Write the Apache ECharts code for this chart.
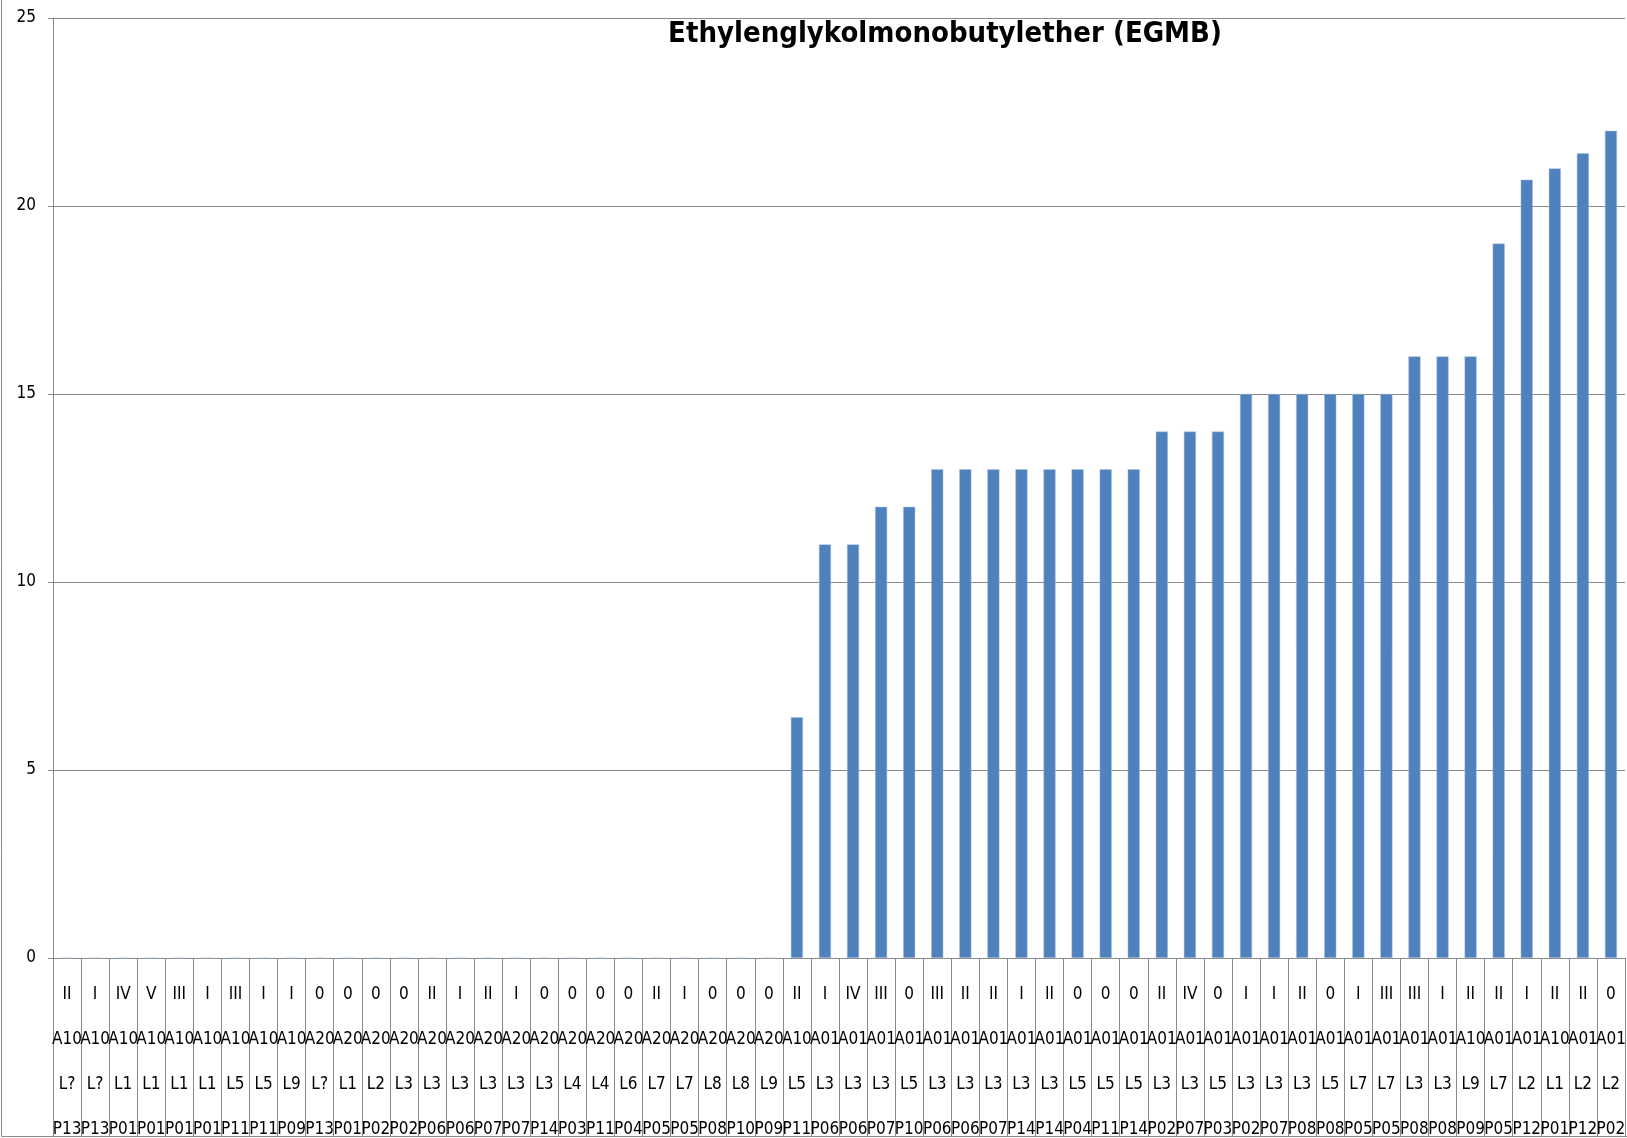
<!DOCTYPE html>
<html>
<head>
<meta charset="utf-8">
<title>EGMB</title>
<script src="https://cdn.jsdelivr.net/npm/echarts@6/dist/echarts.min.js"></script>
<style>
  html, body { margin: 0; padding: 0; background: #fff; }
  #chart { width: 1627px; height: 1138px; }
</style>
</head>
<body>
<div id="chart"></div>
<script>
// x-axis label rows (top to bottom)
var classes = ['II','I','IV','V','III','I','III','I','I','0','0','0','0','II','I','II','I','0','0','0','0','II','I','0','0','0',
  'II','I','IV','III','0','III','II','II','I','II','0','0','0','II','IV','0','I','I','II','0','I','III','III','I','II','II','I','II','II','0']
var areas = ['A10','A10','A10','A10','A10','A10','A10','A10','A10','A20','A20','A20','A20','A20','A20','A20','A20','A20','A20','A20','A20','A20','A20','A20','A20','A20',
  'A10','A01','A01','A01','A01','A01','A01','A01','A01','A01','A01','A01','A01','A01','A01','A01','A01','A01','A01','A01','A01','A01','A01','A01','A10','A01','A01','A10','A01','A01']
var lines = ['L?','L?','L1','L1','L1','L1','L5','L5','L9','L?','L1','L2','L3','L3','L3','L3','L3','L3','L4','L4','L6','L7','L7','L8','L8','L9',
  'L5','L3','L3','L3','L5','L3','L3','L3','L3','L3','L5','L5','L5','L3','L3','L5','L3','L3','L3','L5','L7','L7','L3','L3','L9','L7','L2','L1','L2','L2']
var points = ['P13','P13','P01','P01','P01','P01','P11','P11','P09','P13','P01','P02','P02','P06','P06','P07','P07','P14','P03','P11','P04','P05','P05','P08','P10','P09',
  'P11','P06','P06','P07','P10','P06','P06','P07','P14','P14','P04','P11','P14','P02','P07','P03','P02','P07','P08','P08','P05','P05','P08','P08','P09','P05','P12','P01','P12','P02']

// EGMB values
var values = [0,0,0,0,0,0,0,0,0,0,0,0,0,0,0,0,0,0,0,0,0,0,0,0,0,0,
  6.4,11,11,12,12,13,13,13,13,13,13,13,13,14,14,14,15,15,15,15,15,15,16,16,16,19,20.7,21,21.4,22]

var categories = classes.map(function (c, i) {
  return [c, areas[i], lines[i], points[i]].join('\n')
})

var labelFont = "'DejaVu Sans Condensed', 'Liberation Sans', sans-serif"
var gridColor = '#8a8a8a'

var chart = echarts.init(document.getElementById('chart'))
chart.setOption({
  animation: false,
  title: {
    text: 'Ethylenglykolmonobutylether (EGMB)',
    left: 940,
    top: 15,
    textAlign: 'center',
    textStyle: {
      fontFamily: labelFont,
      fontSize: 29,
      fontWeight: 'bold',
      color: '#000'
    }
  },
  grid: {
    left: 53,
    right: 2,
    top: 18,
    bottom: 180,
    outerBoundsMode: 'none',
    containLabel: false
  },
  graphic: [{
    type: 'rect',
    silent: true,
    z: -1,
    shape: { x: 1.5, y: -10, width: 1700, height: 1146.5 },
    style: { fill: 'none', stroke: gridColor, lineWidth: 1 }
  }],
  xAxis: {
    type: 'category',
    data: categories,
    axisLine: { lineStyle: { color: gridColor, width: 1 } },
    axisTick: {
      show: true,
      interval: 0,
      length: 178,
      lineStyle: { color: gridColor, width: 1 }
    },
    axisLabel: {
      interval: 0,
      margin: 14,
      lineHeight: 45,
      fontSize: 17,
      fontFamily: labelFont,
      color: '#000'
    }
  },
  yAxis: {
    type: 'value',
    min: 0,
    max: 25,
    interval: 5,
    axisLine: { show: true, lineStyle: { color: gridColor, width: 1 } },
    axisTick: { show: true, length: 5, lineStyle: { color: gridColor } },
    splitLine: { lineStyle: { color: gridColor, width: 1 } },
    axisLabel: {
      margin: 17,
      fontSize: 17,
      fontFamily: labelFont,
      color: '#000'
    }
  },
  series: [{
    name: 'EGMB',
    type: 'bar',
    data: values,
    barWidth: '43%',
    itemStyle: {
      color: '#4F81BD',
      borderColor: '#A7C0DE',
      borderWidth: 0.5
    }
  }]
})
</script>
</body>
</html>
